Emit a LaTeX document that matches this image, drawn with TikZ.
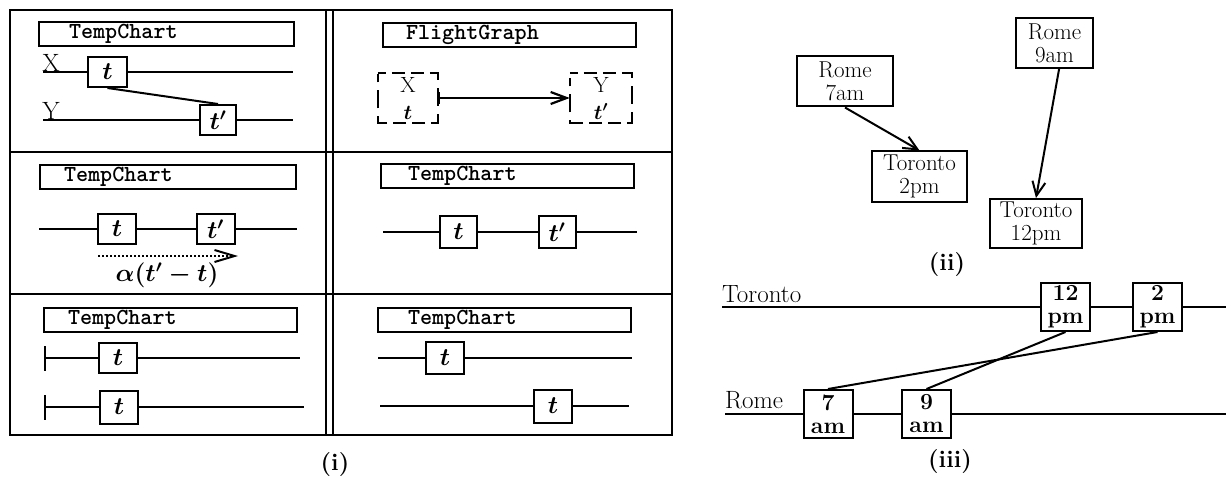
\documentclass[tikz,border=0pt]{standalone}
\usepackage{amsmath}
\usetikzlibrary{arrows.meta}

\tikzset{
  ln/.style={line width=2pt},
  ttl/.style={draw, line width=2pt, inner sep=0pt, anchor=north west,
    minimum height=24pt, align=left,
    font=\fontsize{23}{25}\selectfont\ttfamily\bfseries},
  ev/.style={draw, line width=2pt, inner sep=0pt, minimum width=38pt,
    minimum height=30pt, font=\fontsize{24}{26}\selectfont\boldmath},
  plain/.style={inner sep=0pt, font=\fontsize{25}{27}\selectfont},
  dnode/.style={inner sep=0pt, minimum width=60pt, minimum height=50pt,
    align=center, font=\fontsize{22}{27}\selectfont\boldmath},
  dedge/.style={line width=2.2pt,
    dash pattern=on 8pt off 6pt on 13pt off 6pt on 13pt off 6pt on 16pt off 8pt on 18pt off 8pt on 16pt off 6pt on 13pt off 6pt on 13pt off 6pt on 16pt off 8pt on 18pt off 8pt on 8pt},
  city/.style={draw, line width=2pt, inner sep=0pt, minimum height=50pt,
    align=center, font=\fontsize{23}{23}\selectfont},
  slot/.style={draw, line width=2pt, inner sep=0pt, minimum width=49pt,
    minimum height=48pt, align=center, font=\fontsize{23}{23}\selectfont\bfseries},
  barb/.style={-{Straight Barb[length=14pt,width=13pt,line width=2pt]}},
  caption/.style={inner sep=0pt, font=\fontsize{24}{26}\selectfont\bfseries}
}

\begin{document}
\begin{tikzpicture}[x=1pt,y=-1pt]
\useasboundingbox (0,0) rectangle (1226,492);

% ---------- (i): the six-cell table ----------
\draw[ln] (10,10) rectangle (672,435);
\draw[ln] (326,10) -- (326,435);
\draw[ln] (333,10) -- (333,435);
\draw[ln] (10,152) -- (672,152);
\draw[ln] (10,294) -- (672,294);

% cell: TempChart with two lanes X and Y
\node[ttl, text width=255pt] (h1) at (38,21) {\hspace*{30pt}TempChart};
\node[plain, anchor=base] (lx) at (51,72) {X};
\node[plain, anchor=base] (ly) at (51,120) {Y};
\coordinate (x0) at (43,72);  \coordinate (x1) at (293,72);
\coordinate (y0) at (43,120); \coordinate (y1) at (293,120);
\node[ev, minimum width=39pt] (a1) at (107.5,72) {$t$};
\node[ev, minimum width=36pt] (a2) at (218,120) {$t'$};
\draw[ln] (x0) -- (a1.west);  \draw[ln] (a1.east) -- (x1);
\draw[ln] (y0) -- (a2.west);  \draw[ln] (a2.east) -- (y1);
\draw[ln] (a1.south) -- (a2.north);

% cell: FlightGraph
\node[ttl, text width=253pt] (h2) at (382,22) {\hspace*{23pt}FlightGraph};
\node[dnode] (bx) at (408,98) {X\\$t$};
\node[dnode, minimum width=62pt] (by) at (601,98) {Y\\$t'$};
\draw[dedge] (bx.north west) -- (bx.north east) -- (bx.south east) -- (bx.south west) -- cycle;
\draw[dedge] (by.north west) -- (by.north east) -- (by.south east) -- (by.south west) -- cycle;
\draw[ln, {Bar[width=12pt,line width=2pt]}-{Straight Barb[length=16pt,width=12pt,line width=2.2pt]}]
  (bx.east) -- (by.west);

% cell: TempChart with a scaled delay
\node[ttl, text width=256pt] (h3) at (39,164) {\hspace*{24pt}TempChart};
\coordinate (p0) at (39,229); \coordinate (p1) at (297,229);
\node[ev] (b1) at (117,229) {$t$};
\node[ev] (b2) at (215.5,229) {$t'$};
\draw[ln] (p0) -- (b1.west);
\draw[ln] (b1.east) -- (b2.west);
\draw[ln] (b2.east) -- (p1);
\coordinate (q0) at (98,256); \coordinate (q1) at (238,256);
\draw[ln, dotted, -{Straight Barb[length=20pt,width=12pt,line width=2pt]}] (q0) -- (q1);
\node[inner sep=0pt, font=\fontsize{24}{26}\selectfont\boldmath] (al) at (167,275) {$\alpha(t'-t)$};

% cell: TempChart, one lane
\node[ttl, text width=253pt] (h4) at (380,163) {\hspace*{27pt}TempChart};
\coordinate (r0) at (383,232); \coordinate (r1) at (637,232);
\node[ev, minimum width=37pt, minimum height=32pt] (c1) at (458.5,232) {$t$};
\node[ev, minimum width=37pt, minimum height=32pt] (c2) at (557,232) {$t'$};
\draw[ln] (r0) -- (c1.west);
\draw[ln] (c1.east) -- (c2.west);
\draw[ln] (c2.east) -- (r1);

% cell: TempChart, two lanes starting at a bar
\node[ttl, text width=253pt] (h5) at (43,307) {\hspace*{24pt}TempChart};
\coordinate (s0) at (44,358); \coordinate (s1) at (300,358);
\coordinate (u0) at (44,407); \coordinate (u1) at (304,407);
\node[ev] (d1) at (118,358) {$t$};
\node[ev, minimum height=33pt] (d2) at (119,407) {$t$};
\draw[ln, {Bar[width=25pt,line width=2pt]}-] (s0) -- (d1.west);
\draw[ln] (d1.east) -- (s1);
\draw[ln, {Bar[width=25pt,line width=2pt]}-] (u0) -- (d2.west);
\draw[ln] (d2.east) -- (u1);

% cell: TempChart, two lanes shifted
\node[ttl, text width=253pt] (h6) at (377,307) {\hspace*{30pt}TempChart};
\coordinate (v0) at (378,358); \coordinate (v1) at (632,358);
\coordinate (w0) at (380,406); \coordinate (w1) at (629,406);
\node[ev, minimum height=32pt] (e1) at (445,358) {$t$};
\node[ev, minimum height=33pt] (e2) at (553,406) {$t$};
\draw[ln] (v0) -- (e1.west);
\draw[ln] (e1.east) -- (v1);
\draw[ln] (w0) -- (e2.west);
\draw[ln] (e2.east) -- (w1);

\node[caption] (ci) at (335,465) {(i)};

% ---------- (ii): flight graph ----------
\node[city, minimum width=96pt] (r7) at (845,81.5) {Rome\\7am};
\node[city, minimum width=95pt] (t2) at (919.5,176.5) {Toronto\\2pm};
\node[city, minimum width=77pt] (r9) at (1054.5,43) {Rome\\9am};
\node[city, minimum width=92pt, minimum height=49pt] (t12) at (1036,223.5) {Toronto\\12pm};
\draw[ln, barb] (r7.south) -- (t2.north);
\draw[ln, barb] (r9.-80) -- (t12.north);
\node[caption] (cii) at (947,265) {(ii)};

% ---------- (iii): time lines ----------
\node[plain, anchor=base west] (lt) at (722,302) {Toronto};
\node[plain, anchor=base west] (lr) at (725,408) {Rome};
\coordinate (tt0) at (722,307); \coordinate (tt1) at (1226,307);
\coordinate (rr0) at (725,414); \coordinate (rr1) at (1226,414);
\node[slot] (m12) at (1065.5,307) {12\\pm};
\node[slot] (m2) at (1157.5,307) {2\\pm};
\node[slot] (m7) at (828,414) {7\\am};
\node[slot] (m9) at (926.5,414) {9\\am};
\draw[ln] (tt0) -- (m12.west);
\draw[ln] (m12.east) -- (m2.west);
\draw[ln] (m2.east) -- (tt1);
\draw[ln] (rr0) -- (m7.west);
\draw[ln] (m7.east) -- (m9.west);
\draw[ln] (m9.east) -- (rr1);
\draw[ln] (m12.south) -- (m9.north);
\draw[ln] (m2.south) -- (m7.north);
\node[caption] (ciii) at (950,462) {(iii)};
\end{tikzpicture}
\end{document}
